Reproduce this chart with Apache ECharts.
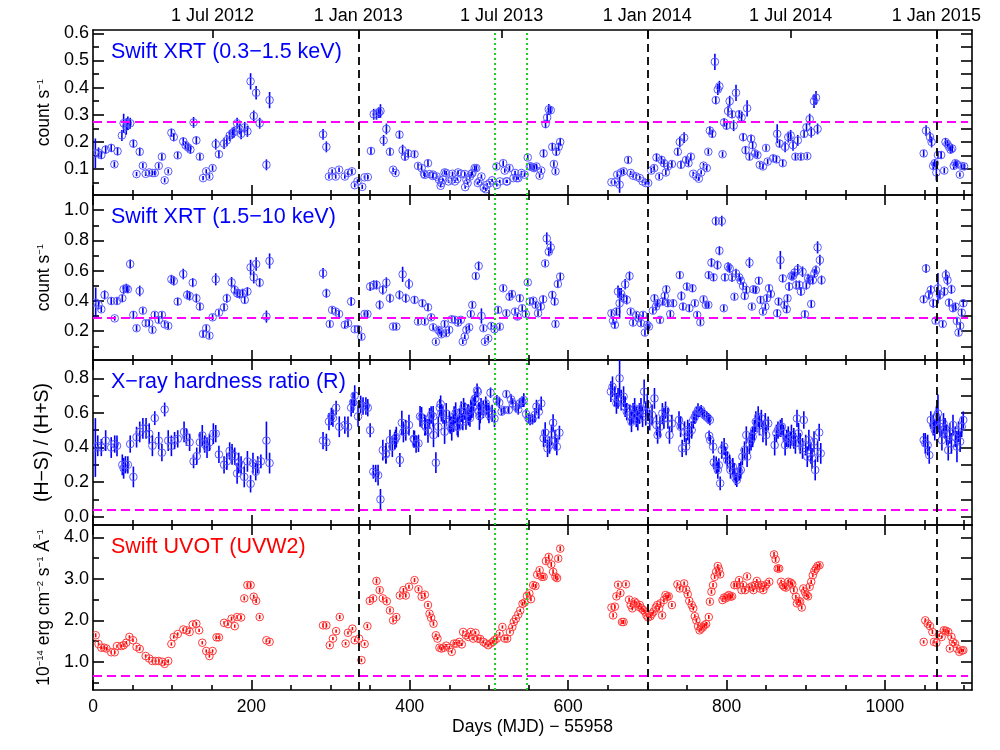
<!DOCTYPE html>
<html><head><meta charset="utf-8">
<script src="https://cdn.jsdelivr.net/npm/echarts@6/dist/echarts.min.js"></script>
<style>html,body{margin:0;padding:0;background:#fff}#c{width:1000px;height:750px}</style>
</head><body><div id="c"></div>
<script>
const FONT = "'Liberation Sans', Arial, Helvetica, sans-serif";

// ---------- tick values / labels ----------
const xTickMajor = [0, 200, 400, 600, 800, 1000];
const xTickMinor = [50,100,150,250,300,350,450,500,550,650,700,750,850,900,950,1050,1100];
const dateTickDays = [151, 335, 516, 700, 881, 1065];
const dateTickLabels = ['1 Jul 2012','1 Jan 2013','1 Jul 2013','1 Jan 2014','1 Jul 2014','1 Jan 2015'];
const yearStartDays = [335, 700, 1065];
const greenDays = [507, 548];
const thresholds = [0.275, 0.29, 0.04, 0.66];

const yRanges = [[0.005, 0.612], [0.01, 1.10], [-0.048, 0.906], [0.32, 4.30]];
const yMajor = [[0.1,0.2,0.3,0.4,0.5,0.6],[0.2,0.4,0.6,0.8,1.0],[0.0,0.2,0.4,0.6,0.8],[1.0,2.0,3.0,4.0]];
const yMinor = [[0.05,0.15,0.25,0.35,0.45,0.55],[0.1,0.3,0.5,0.7,0.9],[0.1,0.3,0.5,0.7],[0.5,1.5,2.5,3.5]];

const panelTitles = ['Swift XRT (0.3\u22121.5 keV)','Swift XRT (1.5\u221210 keV)','X\u2212ray hardness ratio (R)','Swift UVOT (UVW2)'];

// ---------- data: [day, value, error] ----------
const xrtSoft = [
[3,0.158,0.055],[7,0.16,0.02],[10.5,0.152,0.015],[16,0.172,0.015],[23,0.178,0.015],[27,0.118,0.01],[31,0.166,0.015],[36.5,0.224,0.02],[38.7,0.269,0.035],[42,0.257,0.03],[44,0.269,0.025],[47,0.269,0.02],[51,0.194,0.015],[55,0.082,0.008],[59,0.164,0.015],[63,0.113,0.01],[66.5,0.083,0.008],[71,0.088,0.008],[75,0.086,0.008],[78,0.086,0.008],[83,0.112,0.01],[87,0.146,0.012],[90.5,0.059,0.008],[95,0.092,0.008],[99,0.234,0.015],[102,0.218,0.015],[107,0.151,0.012],[114,0.202,0.015],[117,0.188,0.015],[120,0.18,0.015],[123,0.172,0.015],[127,0.272,0.02],[130.5,0.206,0.015],[135,0.146,0.012],[139,0.067,0.008],[143,0.092,0.008],[147,0.073,0.008],[151,0.104,0.01],[155,0.192,0.02],[159,0.155,0.015],[165.5,0.194,0.02],[169,0.206,0.02],[172.6,0.224,0.02],[176,0.233,0.02],[178,0.236,0.02],[182,0.269,0.02],[185,0.248,0.02],[187,0.23,0.02],[191.6,0.254,0.02],[195,0.239,0.02],[199,0.423,0.03],[203,0.296,0.02],[206,0.381,0.025],[210.5,0.269,0.02],[219,0.116,0.02],[223,0.354,0.03],
[290.5,0.228,0.02],[294.7,0.182,0.02],[298,0.073,0.008],[302,0.092,0.008],[306.5,0.073,0.008],[310.7,0.098,0.008],[318,0.073,0.008],[322,0.086,0.008],[327,0.092,0.01],[330.5,0.041,0.008],[334,0.055,0.008],[340,0.035,0.008],[343,0.07,0.008],[347,0.071,0.008],[351,0.167,0.015],[354.5,0.302,0.02],[358,0.302,0.02],[361,0.308,0.02],[363,0.314,0.025],[367,0.206,0.02],[370.5,0.248,0.02],[375,0.164,0.015],[379,0.098,0.008],[382,0.086,0.008],[387,0.227,0.015],[391,0.17,0.02],[394,0.146,0.015],[398,0.158,0.015],[406,0.155,0.012],[410.5,0.112,0.01],[415,0.104,0.01],[418,0.083,0.008],[423,0.122,0.012],[425,0.082,0.008],[429.5,0.08,0.008],[434,0.073,0.008],[437,0.061,0.008],[440,0.049,0.006],[442,0.061,0.006],[446,0.086,0.008],[449,0.055,0.006],[453,0.061,0.006],[457,0.055,0.006],[460,0.064,0.006],[465,0.083,0.008],[469.5,0.082,0.008],[471.6,0.061,0.006],[476,0.073,0.008],[479,0.086,0.008],[482,0.104,0.01],[486,0.049,0.006],[490.5,0.073,0.008],[493.5,0.031,0.006],[497.7,0.043,0.006],[501,0.049,0.006],[504,0.059,0.006],[509.5,0.11,0.01],
[419,0.079,0.008],[429,0.075,0.008],[439,0.039,0.006],[444,0.088,0.008],[454,0.083,0.008],[461,0.088,0.008],[470,0.034,0.006],[473,0.049,0.006],[478,0.083,0.008],[484,0.104,0.01],[488,0.055,0.006],[496,0.026,0.006],[510,0.042,0.006],[520,0.095,0.008],[523,0.055,0.006],[531,0.067,0.006],[535,0.067,0.006],[553,0.11,0.01],[557,0.104,0.01],
[513.7,0.055,0.006],[518,0.122,0.01],[522,0.055,0.006],[526,0.104,0.01],[533,0.086,0.008],[537,0.067,0.006],[541,0.086,0.008],[545,0.08,0.008],[549,0.143,0.01],[551.6,0.11,0.01],[556,0.106,0.01],[560,0.11,0.01],[564,0.076,0.008],[566,0.095,0.008],[569,0.158,0.015],[571.5,0.266,0.015],[573.5,0.29,0.015],[575.6,0.32,0.02],[578,0.317,0.015],[580,0.182,0.015],[582,0.119,0.01],[584,0.092,0.01],[585,0.164,0.015],[588,0.182,0.015],[590,0.2,0.015],
[654.7,0.052,0.006],[659,0.052,0.006],[662,0.08,0.01],[665,0.043,0.03],[667,0.088,0.01],[670,0.092,0.01],[675.8,0.134,0.012],[679,0.086,0.008],[682,0.076,0.008],[686,0.073,0.008],[690.5,0.067,0.008],[694,0.055,0.006],[698,0.049,0.006],[701,0.049,0.006],[705,0.095,0.01],[708.6,0.104,0.01],[711.6,0.143,0.015],[715,0.073,0.01],[718,0.134,0.015],[721,0.122,0.015],[723.4,0.088,0.01],[726,0.11,0.012],[731,0.119,0.012],[738.5,0.164,0.015],[741,0.2,0.02],[742.5,0.116,0.015],[746.5,0.216,0.02],[749,0.134,0.012],[752,0.122,0.012],[755,0.146,0.012],[758,0.083,0.008],[762,0.073,0.008],[765,0.065,0.008],[768,0.088,0.008],[771,0.113,0.01],[775,0.104,0.01],[777,0.164,0.01],[779,0.242,0.015],[782,0.23,0.015],[785.3,0.495,0.03],[786.5,0.354,0.015],[789,0.393,0.02],[791,0.405,0.02],[795,0.155,0.01],[797,0.272,0.015],[800,0.26,0.015],[802,0.314,0.02],[804,0.35,0.02],[807,0.302,0.015],[809,0.26,0.02],[812,0.381,0.03],[816,0.302,0.015],[819,0.29,0.02],[821,0.218,0.015],[824,0.17,0.015],[826,0.324,0.03],[829,0.146,0.012],[831,0.212,0.015],[833,0.188,0.015],[836,0.158,0.012],[839,0.152,0.012],[842,0.116,0.01],[846,0.11,0.01],[850,0.178,0.01],[852,0.128,0.01],[859,0.14,0.012],[863,0.136,0.012],[864,0.23,0.035],[867,0.194,0.015],[871,0.122,0.012],[874,0.182,0.02],[878,0.218,0.02],[881,0.224,0.02],[884,0.188,0.02],[887,0.146,0.012],[890,0.206,0.02],[894,0.146,0.012],[898,0.23,0.015],[901,0.254,0.015],[902,0.148,0.01],[905,0.284,0.02],[907,0.236,0.02],[910.5,0.35,0.025],[913,0.363,0.025],[915,0.248,0.02],
[1049,0.158,0.012],[1052,0.242,0.02],[1057,0.218,0.02],[1059,0.2,0.02],[1061,0.112,0.015],[1063,0.122,0.015],[1065,0.088,0.03],[1067,0.152,0.015],[1071,0.152,0.015],[1075,0.095,0.01],[1076.6,0.2,0.015],[1079,0.192,0.015],[1081,0.182,0.015],[1083,0.172,0.015],[1085,0.176,0.015],[1087,0.112,0.012],[1089,0.122,0.012],[1091,0.118,0.012],[1094.7,0.08,0.008],[1097,0.112,0.01],[1100,0.11,0.01]
];

const xrtHard = [
[3.4,0.389,0.1],[7,0.374,0.03],[10.5,0.345,0.02],[14.7,0.44,0.03],[23,0.40,0.025],[27.4,0.285,0.015],[30.3,0.40,0.025],[37,0.418,0.025],[38.7,0.477,0.03],[42,0.484,0.03],[44,0.477,0.025],[47,0.644,0.03],[51,0.308,0.025],[55,0.22,0.02],[59,0.466,0.035],[63,0.336,0.02],[66.5,0.253,0.02],[71,0.253,0.02],[75,0.209,0.02],[78,0.308,0.02],[83,0.275,0.02],[87,0.308,0.02],[90.5,0.246,0.02],[95,0.235,0.02],[99,0.543,0.03],[102,0.532,0.03],[107,0.396,0.025],[114,0.578,0.035],[119,0.44,0.03],[122,0.433,0.03],[126,0.521,0.03],[130.5,0.418,0.03],[135,0.363,0.025],[139,0.182,0.02],[143,0.22,0.02],[147,0.171,0.02],[151,0.292,0.02],[155,0.543,0.04],[159,0.323,0.02],[165.5,0.358,0.025],[169,0.418,0.03],[175,0.523,0.035],[179,0.473,0.03],[182,0.451,0.03],[185,0.446,0.03],[189,0.451,0.03],[191.6,0.407,0.025],[195,0.462,0.03],[199,0.622,0.05],[203,0.556,0.04],[206,0.644,0.045],[210.5,0.521,0.03],[219,0.297,0.04],[223,0.664,0.05],
[290.5,0.583,0.035],[294.7,0.451,0.03],[299,0.248,0.02],[302,0.341,0.02],[306.5,0.33,0.02],[310.7,0.314,0.02],[318,0.242,0.02],[322,0.253,0.02],[326,0.396,0.03],[330.5,0.213,0.02],[334.7,0.213,0.02],[339,0.164,0.02],[343,0.314,0.02],[346.5,0.314,0.02],[350,0.495,0.03],[354.5,0.506,0.03],[358,0.506,0.03],[362,0.374,0.03],[366,0.473,0.03],[370.5,0.521,0.035],[375,0.418,0.03],[379,0.231,0.02],[383,0.231,0.02],[387,0.44,0.03],[391,0.576,0.05],[395,0.418,0.03],[399,0.512,0.035],[406,0.407,0.025],[410.5,0.264,0.02],[416,0.385,0.025],[419,0.264,0.02],[423,0.358,0.025],[427,0.292,0.02],[429.5,0.226,0.02],[433,0.131,0.015],[436,0.209,0.02],[438,0.198,0.02],[440,0.18,0.02],[444,0.248,0.02],[446,0.187,0.02],[449.7,0.209,0.02],[453,0.279,0.02],[457,0.275,0.02],[461,0.257,0.02],[464.4,0.275,0.02],[467,0.131,0.015],[469.5,0.164,0.015],[471.6,0.209,0.02],[475,0.226,0.02],[477,0.314,0.02],[479,0.374,0.02],[483.4,0.565,0.02],[487,0.631,0.03],[490.5,0.301,0.05],[493,0.22,0.02],[495,0.131,0.015],[499,0.153,0.015],[503,0.235,0.02],[507,0.213,0.02],[511.6,0.341,0.02],
[513.7,0.23,0.02],[518,0.484,0.02],[522,0.319,0.02],[526,0.428,0.025],[529,0.446,0.025],[533,0.33,0.02],[536,0.297,0.02],[539,0.418,0.025],[542,0.352,0.02],[546.5,0.314,0.02],[549,0.523,0.02],[551.6,0.396,0.02],[556,0.402,0.02],[559,0.374,0.02],[562,0.319,0.02],[565.5,0.363,0.025],[568.4,0.411,0.025],[571,0.648,0.02],[573,0.813,0.04],[575.6,0.725,0.03],[578,0.754,0.04],[580,0.44,0.025],[583,0.396,0.025],[584,0.248,0.02],[587,0.512,0.025],[590,0.561,0.025],
[654.7,0.319,0.02],[656.8,0.27,0.02],[659,0.242,0.02],[661,0.33,0.025],[663,0.462,0.04],[665,0.385,0.1],[667,0.446,0.04],[670,0.418,0.03],[672,0.51,0.035],[674,0.407,0.03],[677.5,0.565,0.03],[679,0.33,0.02],[682,0.257,0.02],[686,0.308,0.02],[689,0.286,0.02],[692,0.253,0.02],[694.6,0.308,0.02],[697,0.191,0.02],[700,0.242,0.025],[702,0.231,0.02],[707,0.336,0.02],[709,0.418,0.025],[711,0.363,0.025],[713,0.385,0.025],[716,0.275,0.02],[719.6,0.396,0.025],[722,0.433,0.025],[724,0.477,0.025],[726,0.385,0.025],[729,0.314,0.02],[732.6,0.385,0.025],[741,0.571,0.025],[743,0.433,0.03],[745,0.363,0.025],[750,0.495,0.025],[753,0.352,0.025],[757,0.484,0.025],[760,0.385,0.02],[762.9,0.308,0.02],[767,0.259,0.02],[771,0.411,0.02],[774,0.374,0.02],[777,0.374,0.02],[777.5,0.571,0.025],[781,0.653,0.03],[783.6,0.556,0.025],[786.5,0.928,0.03],[788.6,0.637,0.03],[791,0.732,0.03],[794,0.928,0.035],[796.6,0.352,0.02],[798,0.556,0.025],[802,0.626,0.03],[804,0.615,0.03],[807,0.556,0.03],[810,0.428,0.02],[812,0.582,0.03],[816,0.556,0.025],[818,0.534,0.025],[821,0.499,0.025],[823,0.433,0.025],[825,0.473,0.025],[829,0.653,0.035],[832,0.363,0.02],[834,0.477,0.025],[837,0.473,0.025],[840.8,0.534,0.025],[843,0.407,0.025],[846,0.33,0.02],[849,0.363,0.02],[851,0.418,0.025],[853.7,0.484,0.025],[856,0.446,0.025],[864,0.319,0.025],[865.7,0.396,0.025],[868,0.67,0.06],[871,0.549,0.025],[873,0.374,0.025],[876,0.345,0.025],[877,0.418,0.025],[879,0.495,0.03],[882,0.565,0.03],[884,0.565,0.03],[886,0.587,0.03],[888,0.505,0.03],[890,0.609,0.035],[892,0.505,0.03],[894,0.462,0.03],[896,0.593,0.035],[899,0.312,0.025],[900.8,0.505,0.03],[903,0.549,0.03],[905,0.538,0.03],[907,0.38,0.025],[909,0.538,0.03],[911,0.582,0.03],[913,0.604,0.03],[915,0.754,0.04],[917.9,0.67,0.035],[920,0.538,0.03],
[1049,0.411,0.025],[1052,0.615,0.03],[1055.6,0.44,0.03],[1058,0.473,0.03],[1061,0.385,0.03],[1064,0.27,0.02],[1067,0.484,0.1],[1069.5,0.44,0.03],[1073,0.248,0.02],[1075,0.462,0.03],[1077,0.571,0.035],[1079,0.538,0.035],[1081,0.389,0.025],[1084,0.477,0.03],[1086,0.352,0.025],[1089,0.363,0.025],[1091,0.268,0.02],[1093,0.191,0.02],[1095,0.235,0.02],[1097,0.323,0.025],[1099,0.385,0.025]
];

const hardness = [
[3,0.40,0.17],[6,0.41,0.06],[10.5,0.40,0.05],[16,0.44,0.06],[23,0.40,0.06],[27.4,0.42,0.05],[30.3,0.41,0.06],[37,0.30,0.06],[38.7,0.28,0.06],[41,0.30,0.05],[44,0.30,0.05],[47,0.42,0.05],[51,0.23,0.06],[55,0.46,0.06],[59,0.49,0.06],[63,0.51,0.06],[67,0.51,0.06],[71,0.48,0.06],[75,0.41,0.06],[78,0.57,0.04],[83,0.44,0.05],[87,0.37,0.05],[90.5,0.62,0.04],[95,0.44,0.06],[99,0.41,0.06],[103,0.44,0.05],[107,0.45,0.05],[115,0.49,0.06],[118,0.46,0.05],[122,0.43,0.05],[127,0.32,0.04],[131,0.35,0.05],[135,0.43,0.06],[138,0.47,0.06],[141,0.42,0.05],[144,0.40,0.06],[147,0.43,0.05],[152,0.48,0.06],[155,0.48,0.05],[159,0.36,0.05],[165.5,0.30,0.05],[169,0.32,0.05],[172.6,0.38,0.05],[175.6,0.36,0.06],[179,0.35,0.05],[182,0.25,0.06],[184,0.31,0.06],[187,0.30,0.05],[191,0.23,0.06],[195,0.32,0.06],[199,0.19,0.05],[202,0.31,0.06],[205.5,0.26,0.05],[208,0.30,0.05],[212,0.32,0.04],[219,0.44,0.11],[223,0.31,0.06],
[290.5,0.44,0.05],[294.7,0.43,0.05],[298,0.55,0.05],[301,0.58,0.05],[303,0.57,0.05],[307,0.63,0.04],[311,0.52,0.06],[318,0.53,0.05],[322,0.52,0.06],[326,0.63,0.05],[328.4,0.66,0.06],[330.5,0.70,0.06],[334.7,0.58,0.06],[338,0.65,0.05],[341,0.64,0.05],[344.6,0.64,0.05],[347,0.63,0.05],[350,0.50,0.04],[354,0.26,0.04],[357,0.25,0.05],[360,0.24,0.06],[363,0.10,0.06],
[366,0.385,0.06],[370,0.366,0.06],[375,0.443,0.06],[378,0.405,0.06],[382,0.453,0.05],[387.5,0.328,0.04],[390,0.543,0.07],[395,0.50,0.06],[399,0.53,0.06],[406,0.447,0.05],[411,0.424,0.05],[415,0.574,0.06],[419,0.53,0.06],[423,0.497,0.07],[425,0.568,0.06],[427,0.588,0.05],[430,0.472,0.07],[433,0.312,0.06],[436,0.52,0.06],[439,0.651,0.05],[442,0.588,0.05],[444,0.491,0.07],[446,0.597,0.06],[450,0.549,0.06],[453,0.51,0.07],[456,0.578,0.06],[458,0.601,0.06],[461,0.52,0.06],[463,0.568,0.06],[465,0.607,0.06],[468,0.636,0.05],[471,0.563,0.06],[474,0.588,0.06],[477,0.617,0.06],[480,0.63,0.06],[483,0.684,0.04],[486,0.722,0.03],[488,0.582,0.08],[490,0.636,0.05],[493,0.62,0.05],[496,0.655,0.04],[499,0.607,0.05],[502,0.717,0.03],[504,0.597,0.05],[507,0.568,0.05],[510,0.674,0.03],[513,0.659,0.03],[516,0.607,0.02],[519,0.617,0.02],[522,0.709,0.02],[525,0.617,0.02],[528,0.678,0.03],[530,0.655,0.03],[534,0.636,0.03],[537,0.62,0.03],[539,0.655,0.03],[542,0.665,0.03],[544,0.674,0.04],[547,0.593,0.03],[550,0.568,0.03],[552,0.559,0.03],[555,0.563,0.03],[558,0.588,0.04],[560,0.636,0.04],[563,0.607,0.04],[566,0.655,0.04],[569,0.453,0.05],[571,0.486,0.06],[574,0.395,0.05],[576.5,0.414,0.05],[579,0.472,0.06],[581,0.543,0.05],[583.5,0.443,0.06],[585.7,0.405,0.05],[589,0.486,0.04],
[369.7,0.36,0.05],[381,0.44,0.05],[383,0.46,0.06],[392,0.49,0.06],[405,0.45,0.05],[408,0.42,0.05],[413,0.58,0.06],[420,0.52,0.05],[429.5,0.58,0.06],[438,0.63,0.05],[440,0.60,0.05],[451,0.53,0.05],[455,0.54,0.05],[460,0.52,0.05],[467,0.55,0.05],[469.5,0.61,0.05],[473.7,0.60,0.05],[476,0.57,0.05],[478,0.62,0.05],[482,0.68,0.04],[485,0.73,0.04],[487,0.61,0.05],[489,0.59,0.05],[497,0.63,0.04],[500,0.59,0.05],
[654,0.723,0.06],[656,0.751,0.06],[659,0.694,0.06],[661,0.655,0.06],[663,0.684,0.06],[665,0.80,0.11],[667,0.674,0.06],[670,0.694,0.06],[672,0.636,0.06],[674,0.607,0.05],[678,0.588,0.06],[680,0.549,0.06],[682,0.597,0.06],[684,0.626,0.06],[686,0.578,0.06],[688,0.559,0.06],[690,0.597,0.06],[692,0.626,0.06],[694,0.578,0.06],[696,0.723,0.07],[698,0.597,0.07],[700,0.645,0.06],[703,0.559,0.06],[706,0.588,0.06],[709,0.684,0.06],[711.6,0.53,0.06],[713,0.472,0.05],[716,0.52,0.06],[719,0.597,0.06],[721,0.568,0.06],[723,0.616,0.05],[726,0.568,0.06],[728,0.472,0.05],[731,0.539,0.05],[740,0.559,0.05],[742,0.52,0.06],[744,0.395,0.05],[747,0.491,0.06],[749,0.405,0.05],[751,0.501,0.06],[753,0.482,0.06],[756,0.501,0.05],[758,0.559,0.05],[760,0.578,0.04],[762,0.597,0.04],[764,0.616,0.04],[766,0.607,0.03],[768,0.616,0.03],[770,0.597,0.03],[772,0.588,0.03],[775,0.578,0.03],[777,0.568,0.03],[779,0.559,0.03],[778,0.468,0.03],[779.5,0.443,0.03],[783,0.405,0.04],[784,0.314,0.04],[787,0.298,0.05],[789,0.27,0.05],[790.3,0.298,0.04],[792,0.193,0.04],[794,0.385,0.05],[797,0.405,0.05],[799,0.356,0.05],[801,0.327,0.05],[804,0.308,0.05],[805,0.27,0.05],[808,0.289,0.05],[809.6,0.26,0.05],[811.4,0.222,0.04],[813,0.212,0.04],[816,0.26,0.05],[818,0.27,0.05],[820,0.347,0.05],[822.7,0.385,0.05],[825,0.472,0.05],[826,0.347,0.06],[829,0.424,0.06],[831,0.443,0.06],[833,0.462,0.06],[835,0.501,0.06],[837,0.549,0.06],[840,0.578,0.06],[841.5,0.53,0.06],[844,0.568,0.05],[846,0.491,0.06],[849,0.539,0.06],[850,0.472,0.06],[852.6,0.539,0.04],[860.8,0.414,0.06],[863,0.482,0.05],[865,0.501,0.05],[868,0.511,0.05],[870,0.52,0.05],[872,0.482,0.05],[874,0.414,0.06],[876,0.453,0.05],[878,0.462,0.06],[880.6,0.443,0.05],[882,0.472,0.06],[885,0.453,0.06],[887,0.424,0.06],[889,0.568,0.05],[891,0.482,0.06],[893,0.424,0.06],[896,0.395,0.06],[897.6,0.559,0.05],[900,0.414,0.06],[902,0.347,0.06],[904,0.443,0.06],[906.5,0.366,0.06],[908,0.337,0.06],[910.5,0.434,0.06],[912,0.27,0.06],[915,0.376,0.06],[917,0.487,0.05],[919,0.366,0.06],
[1049,0.443,0.04],[1051,0.424,0.06],[1054,0.414,0.06],[1056,0.356,0.05],[1058,0.559,0.05],[1061,0.53,0.06],[1063,0.501,0.06],[1065,0.578,0.06],[1067,0.597,0.11],[1069.5,0.52,0.06],[1072,0.443,0.06],[1074,0.539,0.06],[1076,0.511,0.06],[1078,0.472,0.06],[1080,0.385,0.06],[1082,0.482,0.06],[1084,0.424,0.06],[1086,0.53,0.06],[1089,0.462,0.06],[1091,0.405,0.09],[1093,0.491,0.06],[1095,0.434,0.06],[1097,0.52,0.06],[1099,0.559,0.05]
];

const uvot = [
[3.4,1.64,0.05],[7,1.43,0.04],[10.5,1.34,0.04],[14,1.34,0.04],[17,1.32,0.04],[23,1.23,0.04],[27.4,1.23,0.04],[30.3,1.38,0.04],[36,1.38,0.04],[38.7,1.40,0.04],[42,1.46,0.04],[46,1.60,0.04],[50.5,1.52,0.04],[55,1.36,0.04],[59,1.31,0.04],[66.5,1.14,0.04],[71,1.08,0.04],[75,1.02,0.04],[79,1.02,0.04],[83,1.02,0.04],[87.6,1.00,0.04],[90.5,0.95,0.04],[95,1.02,0.04],[99,1.43,0.04],[102,1.60,0.04],[107,1.67,0.04],[114,1.78,0.04],[118,1.76,0.04],[122,1.72,0.04],[126,1.90,0.04],[130.5,1.92,0.04],[134,1.76,0.04],[138,1.46,0.04],[143,1.26,0.04],[147,1.14,0.04],[151,1.26,0.04],[156,1.59,0.04],[159,1.59,0.04],[165.5,1.94,0.04],[170.5,1.91,0.04],[175,2.04,0.05],[179,1.86,0.04],[182,2.08,0.05],[187,2.07,0.05],[191,2.53,0.05],[195,2.85,0.06],[199,2.85,0.06],[203,2.57,0.05],[206,2.47,0.05],[210.5,2.08,0.05],[219,1.52,0.04],[223,1.48,0.04],
[290.5,1.88,0.05],[294.7,1.88,0.05],[299,1.40,0.04],[303,1.56,0.04],[307,1.74,0.04],[311.6,2.08,0.05],[319,1.44,0.04],[322,1.70,0.04],[327.6,1.80,0.04],[330.5,1.52,0.04],[336,1.56,0.04],[339,1.04,0.04],[343,1.43,0.04],[346.5,1.86,0.05],[349.5,2.47,0.05],[353.7,2.53,0.05],[358,2.95,0.06],[362,2.73,0.06],
[366,2.53,0.05],[371,2.46,0.05],[375,2.24,0.05],[379,2.00,0.05],[383,2.08,0.05],[387.5,2.60,0.05],[392,2.73,0.05],[395,2.60,0.05],[399,2.81,0.05],[406,2.97,0.05],[411,2.75,0.05],[415,2.57,0.05],[419,2.62,0.05],[423,2.37,0.05],[425,2.16,0.05],[427,2.06,0.05],[430,1.92,0.05],[433,1.64,0.04],[435,1.56,0.04],[437.5,1.34,0.04],[440,1.32,0.04],[443,1.34,0.04],[446,1.39,0.04],[450,1.34,0.04],[453,1.24,0.04],[456,1.44,0.04],[459,1.44,0.04],[462.6,1.48,0.04],[465.7,1.42,0.04],[467.4,1.72,0.04],[471,1.64,0.04],[474,1.60,0.04],[477,1.72,0.04],[480,1.56,0.04],[483,1.70,0.04],[486,1.56,0.04],[489,1.55,0.04],[493,1.48,0.04],[496,1.44,0.04],[499,1.40,0.04],[502,1.44,0.04],[505,1.48,0.04],[507,1.52,0.04],[510,1.56,0.04],[513.5,1.68,0.04],[517,1.84,0.04],[520,1.56,0.04],[523,1.56,0.04],[526.5,1.72,0.04],[529.5,1.84,0.04],[531.4,1.96,0.04],[534,2.04,0.04],[537,2.14,0.04],[539.5,2.24,0.04],[542.4,2.40,0.05],[545,2.43,0.05],[548,2.59,0.05],[551,2.65,0.05],[553,2.51,0.05],[555.9,2.85,0.05],[558.7,2.83,0.05],[561,3.10,0.05],[564,3.21,0.05],[567,3.05,0.05],[569,3.05,0.05],[572,3.43,0.06],[575.5,3.53,0.06],[578.7,3.35,0.06],[581,3.17,0.06],[584,3.05,0.06],[586,3.02,0.06],[587.5,3.49,0.06],[590,3.73,0.06],
[654.7,2.31,0.05],[656.8,2.12,0.05],[659,2.33,0.05],[661,2.58,0.05],[663,2.86,0.05],[666,2.66,0.05],[668,1.96,0.05],[670,1.96,0.05],[673,2.87,0.05],[677,2.50,0.05],[679,2.37,0.05],[681,2.29,0.05],[684,2.45,0.05],[686,2.41,0.05],[688.6,2.33,0.05],[690.5,2.37,0.05],[692.6,2.29,0.05],[694.7,2.25,0.05],[697,2.21,0.05],[699,2.12,0.05],[701,2.07,0.05],[704,2.10,0.05],[706,2.16,0.05],[708,2.21,0.05],[710.7,2.31,0.05],[712.6,2.37,0.05],[715,2.29,0.05],[716.6,2.41,0.05],[718.7,2.12,0.05],[721,2.49,0.05],[723,2.61,0.05],[725,2.57,0.05],[727,2.58,0.05],[731,2.37,0.05],[738,2.87,0.05],[741,2.77,0.05],[746.5,2.89,0.05],[749,2.74,0.05],[751,2.63,0.05],[753,2.47,0.05],[756,2.37,0.05],[758,2.29,0.05],[760,2.10,0.05],[761.9,2.00,0.05],[764,1.86,0.05],[766,1.76,0.05],[768,1.80,0.05],[770,1.83,0.05],[772,1.88,0.05],[774.3,1.91,0.05],[777.6,2.08,0.05],[779,2.45,0.05],[781,2.69,0.05],[783,2.85,0.05],[785,3.05,0.05],[787,3.17,0.05],[789,3.31,0.05],[790.5,3.23,0.05],[792,3.11,0.05],[795,2.49,0.05],[797,2.55,0.05],[799,2.53,0.05],[801,2.58,0.05],[803,2.61,0.05],[805,2.57,0.05],[807,2.58,0.05],[810,2.85,0.05],[813,2.85,0.05],[816,2.97,0.05],[819,2.73,0.05],[821,2.85,0.05],[823.5,2.73,0.05],[826,3.06,0.05],[829,2.79,0.05],[832,2.82,0.05],[834,2.73,0.05],[836,2.85,0.05],[838.3,2.95,0.05],[840,2.85,0.05],[842,2.77,0.05],[844,2.85,0.05],[846.5,2.73,0.05],[848.4,2.82,0.05],[850.5,2.87,0.05],[854,2.93,0.05],[860,3.59,0.06],[862,3.47,0.06],[864.6,3.25,0.06],[866.5,3.25,0.06],[869,2.93,0.05],[871,2.85,0.05],[873,2.81,0.05],[875,2.79,0.05],[878,2.93,0.05],[881,2.91,0.05],[883,2.87,0.05],[885,2.73,0.05],[887.6,2.57,0.05],[889,2.41,0.05],[891,2.47,0.05],[893,2.45,0.05],[895,2.31,0.05],[897,2.77,0.05],[899,2.69,0.05],[901,2.61,0.05],[903,2.58,0.05],[905,2.81,0.05],[907,2.93,0.05],[909,3.09,0.05],[911,3.19,0.05],[913,3.25,0.05],[915,3.31,0.05],[917.5,3.33,0.05],
[1049,1.48,0.04],[1051,2.00,0.05],[1054,1.92,0.05],[1057,1.86,0.05],[1060,1.72,0.05],[1062,1.48,0.04],[1065,1.46,0.04],[1068.6,1.64,0.04],[1071.6,1.60,0.04],[1074.5,1.76,0.05],[1077,1.75,0.05],[1080,1.72,0.05],[1082,1.32,0.04],[1084,1.60,0.04],[1086,1.48,0.04],[1088.4,1.44,0.04],[1091,1.32,0.04],[1094,1.24,0.04],[1097,1.27,0.04],[1099,1.28,0.04]
];

const panelData = [xrtSoft, xrtHard, hardness, uvot];

// ---------- layout ----------
const GRID_TOP = [30, 195, 360, 525];
const GRID_H = 165;
const BLUE = '#0000ff', RED = '#ff0000';
const panelColor = [BLUE, BLUE, BLUE, RED];
const circleColor = ['#5a5aff', '#5a5aff', '#5a5aff', '#ff3a3a'];

const supRich = {
  a: { fontSize: 17.5, fontFamily: FONT, color: '#000' },
  b: { fontSize: 19.5, fontFamily: FONT, color: '#000' },
  s: { fontSize: 9.5, fontFamily: FONT, color: '#000', verticalAlign: 'top', padding: [0, 0, 7, 0] }
};
const yNames = [
  '{a|count s}{s|\u22121}',
  '{a|count s}{s|\u22121}',
  '{b|(H\u2212S) / (H+S)}',
  '{a|10}{s|\u221214}{a| erg cm}{s|\u22122}{a| s}{s|\u22121}{a| \u00c5}{s|\u22121}'
];

const blackLine = { color: '#000', width: 1.6 };
const xAxis = [], yAxis = [], series = [], xIdx = [], yIdx = [];

function xAx(g, pos, ticks, len, showLine, extra) {
  return Object.assign({
    gridIndex: g, type: 'value', position: pos, min: 0, max: 1110,
    axisLine: { show: showLine, onZero: false, lineStyle: blackLine },
    axisTick: { show: true, inside: true, length: len, customValues: ticks, lineStyle: blackLine },
    axisLabel: { show: false },
    splitLine: { show: false }
  }, extra || {});
}
function yAx(g, pos, ticks, len, showLine, extra) {
  return Object.assign({
    gridIndex: g, type: 'value', position: pos, min: yRanges[g][0], max: yRanges[g][1],
    axisLine: { show: showLine, onZero: false, lineStyle: blackLine },
    axisTick: { show: true, inside: true, length: len, customValues: ticks, lineStyle: blackLine },
    axisLabel: { show: false },
    splitLine: { show: false }
  }, extra || {});
}

for (let g = 0; g < 4; g++) {
  xIdx[g] = xAxis.length;
  const bottomExtra = g === 3 ? {
    axisLabel: { show: true, customValues: xTickMajor, margin: 8, fontSize: 17.5, color: '#000', fontFamily: FONT,
      formatter: v => String(v) },
    name: 'Days (MJD) \u2212 55958', nameLocation: 'middle', nameGap: 28,
    nameTextStyle: { fontSize: 17.5, color: '#000', fontFamily: FONT }
  } : {};
  xAxis.push(xAx(g, 'bottom', xTickMajor, 10, true, bottomExtra));
  xAxis.push(xAx(g, 'bottom', xTickMinor, 5, false));
  if (g === 0) {
    xAxis.push(xAx(g, 'top', dateTickDays, 8, true, {
      axisLabel: { show: true, customValues: dateTickDays, margin: 5, fontSize: 18, color: '#000', fontFamily: FONT,
        formatter: v => dateTickLabels[dateTickDays.indexOf(v)] || '' }
    }));
  } else {
    xAxis.push(xAx(g, 'top', xTickMajor, 10, true));
    xAxis.push(xAx(g, 'top', xTickMinor, 5, false));
  }

  yIdx[g] = yAxis.length;
  yAxis.push(yAx(g, 'left', yMajor[g], 11, true, {
    axisLabel: { show: true, customValues: yMajor[g], margin: 4, fontSize: 18, color: '#000', fontFamily: FONT,
      formatter: v => v.toFixed(1) },
    name: yNames[g], nameLocation: 'middle', nameRotate: 90, nameGap: g === 2 ? 38 : 39,
    nameTextStyle: { rich: supRich, fontSize: 17.5, fontFamily: FONT, color: '#000' }
  }));
  yAxis.push(yAx(g, 'left', yMinor[g], 6, false));
  yAxis.push(yAx(g, 'right', yMajor[g].concat(yMinor[g]), 11, true));

  const lineCol = panelColor[g], circCol = circleColor[g];
  series.push({
    type: 'custom', xAxisIndex: xIdx[g], yAxisIndex: yIdx[g], data: panelData[g],
    clip: true, silent: true, z: 3, animation: false,
    renderItem: function (params, api) {
      const x = api.value(0), y = api.value(1), e = api.value(2);
      const p = api.coord([x, y]);
      const lo = api.coord([x, y - e]);
      const hi = api.coord([x, y + e]);
      return { type: 'group', children: [
        { type: 'line', shape: { x1: p[0], y1: lo[1], x2: p[0], y2: hi[1] },
          style: { stroke: lineCol, lineWidth: 1.6 } },
        { type: 'circle', shape: { cx: p[0], cy: p[1], r: 3.8 },
          style: { fill: 'none', stroke: circCol, lineWidth: 1 } }
      ] };
    }
  });
  const mlBase = { symbol: 'none', silent: true, animation: false, label: { show: false }, emphasis: { disabled: true } };
  series.push({
    type: 'line', xAxisIndex: xIdx[g], yAxisIndex: yIdx[g], data: [], silent: true, z: 2,
    markLine: Object.assign({}, mlBase, {
      lineStyle: { color: '#ff00ff', width: 2, type: [9, 5] },
      data: [[{ coord: [0, thresholds[g]] }, { coord: [1105, thresholds[g]] }]]
    })
  });
  series.push({
    type: 'line', xAxisIndex: xIdx[g], yAxisIndex: yIdx[g], data: [], silent: true, z: 2,
    markLine: Object.assign({}, mlBase, {
      lineStyle: { color: '#000', width: 1.8, type: [8, 5] },
      data: yearStartDays.map(d => ({ xAxis: d }))
    })
  });
  series.push({
    type: 'line', xAxisIndex: xIdx[g], yAxisIndex: yIdx[g], data: [], silent: true, z: 2,
    markLine: Object.assign({}, mlBase, {
      lineStyle: { color: '#22cc22', width: 2, type: [2, 3] },
      data: greenDays.map(d => ({ xAxis: d }))
    })
  });
}

const option = {
  backgroundColor: '#fff',
  animation: false,
  grid: GRID_TOP.map(t => ({ left: 93, width: 879, top: t, height: GRID_H, show: false })),
  xAxis: xAxis,
  yAxis: yAxis,
  series: series,
  graphic: panelTitles.map((t, g) => ({
    type: 'text', left: 111, top: GRID_TOP[g] + 11, z: 10,
    style: { text: t, fill: panelColor[g], fontSize: 21.5, fontFamily: FONT }
  }))
};

const chart = echarts.init(document.getElementById('c'), null, { renderer: 'canvas' });
chart.setOption(option);
</script>
</body></html>
